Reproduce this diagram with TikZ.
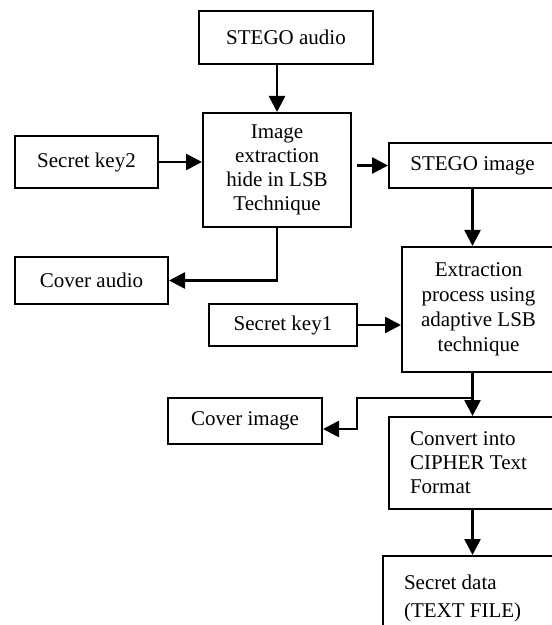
\documentclass[tikz,border=0pt]{standalone}
\usepackage{fontspec}
\setmainfont{Liberation Serif}
\usepackage{tikz}
\usetikzlibrary{arrows.meta,positioning,calc}

\begin{document}
\begin{tikzpicture}[x=0.5pt,y=-0.5pt,
  blk/.style={draw, line width=1pt, inner sep=0pt, align=center, font=\fontsize{10.5}{12}\selectfont},
  lblk/.style={blk, align=flush left, inner xsep=10.5pt},
  arr/.style={-{Triangle[length=8pt,width=8pt]}, line width=1.3pt}]
\useasboundingbox (0,0) rectangle (551,625);
\node[blk, minimum width=87pt, minimum height=26.5pt] (saudio) at (286,37.5) {STEGO audio};
\node[blk, minimum width=74pt, minimum height=57pt] (embed) at (277,170) {Image\\extraction\\hide in LSB\\Technique};
\node[blk, minimum width=71.5pt, minimum height=26pt] (key2) at (86.5,162) {Secret key2};
\node[blk, minimum width=83.5pt, minimum height=22.5pt] (simg) at (472.5,165.5) {STEGO image};
\node[blk, minimum width=76.5pt, minimum height=23.5pt] (caudio) at (91.5,280.5) {Cover audio};
\node[blk, minimum width=76.5pt, minimum height=62.5pt, font=\fontsize{10.5}{12.5}\selectfont] (extr) at (478.5,309.5) {Extraction\\process using\\adaptive LSB\\technique};
\node[blk, minimum width=74pt, minimum height=21pt] (key1) at (283,325) {Secret key1};
\node[blk, minimum width=77pt, minimum height=23pt] (cimg) at (245,421) {Cover image};
\node[lblk, text width=62.5pt, minimum height=46pt] (conv) at (472.5,463) {Convert into\\CIPHER Text\\Format};
\node[lblk, text width=67.5pt, minimum height=42pt, font=\fontsize{10.5}{14}\selectfont] (sdata) at (471.5,598) {Secret data\\(TEXT FILE)};
\coordinate (brk) at (357,398);

\draw[arr] (embed.north |- saudio.south) -- (embed.north);
\draw[arr] (key2.east) -- (key2.east -| embed.west);
\draw[arr] ([xshift=2.5pt]embed.east |- simg.west) -- (simg.west);
\draw[arr] (embed.south) |- (caudio.east);
\draw[arr] (simg.south) -- (simg.south |- extr.north);
\draw[arr] (key1.east) -- (key1.east -| extr.west);
\draw[arr] (conv.north |- extr.south) -- (conv.north);
\draw[arr] (conv.north |- brk) -- (brk) |- ([yshift=-4pt]cimg.east);
\draw[arr] (conv.south) -- (conv.south |- sdata.north);
\end{tikzpicture}
\end{document}
